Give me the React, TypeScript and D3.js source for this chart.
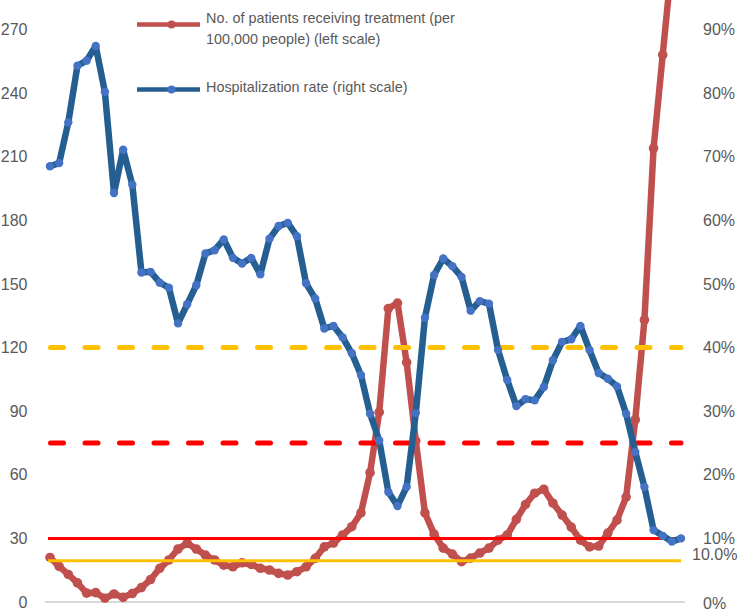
import React from "react";
import * as d3 from "d3";

// Patients receiving treatment per 100,000 people (left scale), one value per period
const patients: number[] = [
  21, 16.8, 13, 9, 4.2, 4.4, 1.8, 3.8, 2.2, 4, 6.8, 10.6, 15.9, 19.8, 25, 27.7, 25, 22.1, 19.8, 17.4,
  16.6, 18.5, 17.7, 15.9, 15.1, 13.5, 12.7, 14.3, 16.6, 20.6, 26, 27.8, 31.6, 35.5, 42, 61, 89.5, 138.4,
  141, 113, 76, 42, 32, 25.4, 22.6, 19, 20.7, 23.1, 25.4, 29.2, 31.6, 39, 46, 51.3, 53.2, 46.6, 41, 35.3,
  29.2, 26, 26.4, 32.5, 38.6, 49.5, 86, 133, 214, 258, 302,
];

// Hospitalization rate in % (right scale)
const hospRate: number[] = [
  68.5, 69.0, 75.4, 84.3, 85.1, 87.4, 80.2, 64.3, 71.1, 65.6,
  51.8, 51.9, 50.2, 49.4, 43.8, 46.8, 49.8, 54.8, 55.3, 57.0,
  54.1, 53.2, 54.1, 51.5, 57.1, 59.1, 59.6, 57.5, 50.1, 47.7,
  43.0, 43.4, 41.6, 39.1, 35.7, 29.6, 25.4, 17.3, 15.1, 18.1,
  29.7, 44.7, 51.4, 54.0, 52.8, 51.1, 45.8, 47.3, 46.9, 39.6,
  34.9, 30.8, 31.9, 31.7, 33.8, 38.0, 40.9, 41.3, 43.4, 39.6,
  36.0, 35.1, 33.9, 29.6, 23.6, 18.1, 11.3, 10.4, 9.5, 10.0,
];

const leftTicks: number[] = [0, 30, 60, 90, 120, 150, 180, 210, 240, 270];
const rightTicks: number[] = [0, 10, 20, 30, 40, 50, 60, 70, 80, 90];
const extraRightLabel = { value: 10.0, text: "10.0%" };

// Reference levels (left scale units)
const dashedYellowLevel = 120;
const dashedRedLevel = 75;
const solidRedLevel = 30;
const solidYellowLevel = 19.5;

const legendItems = [
  { lines: ["No. of patients receiving treatment (per", "100,000 people) (left scale)"], key: "red" },
  { lines: ["Hospitalization rate (right scale)"], key: "blue" },
];

const RED = "#C0504D";
const BLUE_LINE = "#255E91";
const BLUE_DOT = "#4472C4";
const LABEL = "#595959";
const FONT = "'Liberation Sans', Arial, sans-serif";

export default function App() {
  const W = 738;
  const H = 613;
  const nPoints = hospRate.length;
  const x = d3.scaleLinear().domain([0, nPoints - 1]).range([50, 681]);
  const yL = d3.scaleLinear().domain([0, 270]).range([602, 29.5]);
  const yR = d3.scaleLinear().domain([0, 90]).range([602, 29.5]);

  const redLine = d3
    .line<number>()
    .x((_, i) => x(i))
    .y((d) => yL(d))
    .curve(d3.curveLinear);
  const blueLine = d3
    .line<number>()
    .x((_, i) => x(i))
    .y((d) => yR(d));

  const refX0 = 48;
  const refX1 = 681;

  return (
    <svg
      width={W}
      height={H}
      style={{ position: "absolute", left: 0, top: 0, background: "#fff" }}
      fontFamily={FONT}
    >
      <rect x={0} y={0} width={W} height={H} fill="#fff" />
      {/* baseline gridline */}
      <line x1={45} x2={685} y1={yL(0)} y2={yL(0)} stroke="#D9D9D9" strokeWidth={2} />

      {/* left axis labels */}
      {leftTicks.map((t) => (
        <text key={"l" + t} x={27.5} y={yL(t)} dy="0.35em" textAnchor="end" fontSize={16} fill={LABEL}>
          {t}
        </text>
      ))}
      {/* right axis labels */}
      {rightTicks.map((t) => (
        <text key={"r" + t} x={703} y={yR(t) + (t === 0 ? 1.5 : 0)} dy="0.35em" fontSize={16} fill={LABEL}>
          {t}%
        </text>
      ))}
      <text x={692} y={yR(extraRightLabel.value) + 16} dy="0.35em" fontSize={16} fill={LABEL}>
        {extraRightLabel.text}
      </text>

      {/* red series */}
      <path d={redLine(patients) || ""} fill="none" stroke={RED} strokeWidth={6.5} strokeLinejoin="round" />
      {patients.map((v, i) => (
        <circle key={"rp" + i} cx={x(i)} cy={yL(v)} r={4.8} fill={RED} />
      ))}

      {/* reference lines */}
      <line x1={refX0} x2={refX1} y1={yL(solidYellowLevel)} y2={yL(solidYellowLevel)} stroke="#FFC000" strokeWidth={3} />
      <line x1={refX0} x2={refX1} y1={yL(solidRedLevel)} y2={yL(solidRedLevel)} stroke="#FF0000" strokeWidth={3} />
      <line
        x1={refX0 + 2.5}
        x2={refX1}
        y1={yL(dashedYellowLevel)}
        y2={yL(dashedYellowLevel)}
        stroke="#FFC000"
        strokeWidth={5}
        strokeDasharray="13 21.5"
        strokeLinecap="round"
      />
      <line
        x1={refX0 + 2.5}
        x2={refX1}
        y1={yL(dashedRedLevel)}
        y2={yL(dashedRedLevel)}
        stroke="#FF0000"
        strokeWidth={5}
        strokeDasharray="13 21.5"
        strokeLinecap="round"
      />

      {/* blue series */}
      <path d={blueLine(hospRate) || ""} fill="none" stroke={BLUE_LINE} strokeWidth={6.5} strokeLinejoin="round" />
      {hospRate.map((v, i) => (
        <circle key={"bp" + i} cx={x(i)} cy={yR(v)} r={4.2} fill={BLUE_DOT} />
      ))}

      {/* legend */}
      {legendItems.map((item, k) => {
        const ly = k === 0 ? 24.5 : 89.5;
        const color = item.key === "red" ? RED : BLUE_LINE;
        const dot = item.key === "red" ? RED : BLUE_DOT;
        return (
          <g key={item.key}>
            <line x1={137} x2={200} y1={ly} y2={ly} stroke={color} strokeWidth={4.5} />
            <circle cx={171.5} cy={ly} r={4} fill={dot} />
            {item.lines.map((ln, j) => (
              <text
                key={j}
                x={206}
                y={(k === 0 ? 22.5 : 92) + j * 21}
                fontSize={14.4}
                fill={LABEL}
              >
                {ln}
              </text>
            ))}
          </g>
        );
      })}
    </svg>
  );
}
